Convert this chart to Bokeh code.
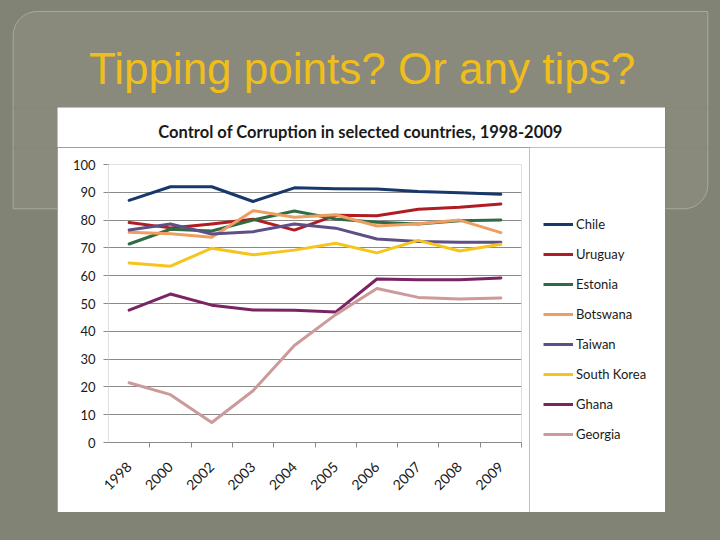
import numpy as np
from bokeh.plotting import figure
from bokeh.layouts import column, row
from bokeh.models import (Range1d, FixedTicker, Legend, LegendItem, Label,
                          CustomJSTickFormatter, GlobalInlineStyleSheet)
from bokeh.embed import file_html
from bokeh.resources import INLINE

# ---------------- data ----------------
years = ["1998", "2000", "2002", "2003", "2004", "2005", "2006", "2007", "2008", "2009"]
chile       = [87.1, 92.0, 92.0, 86.7, 91.6, 91.3, 91.2, 90.3, 89.8, 89.3]
uruguay     = [79.1, 77.2, 78.6, 80.3, 76.4, 81.7, 81.6, 83.9, 84.6, 85.8]
estonia     = [71.4, 76.7, 76.1, 80.0, 83.3, 80.4, 79.2, 78.6, 79.8, 80.0]
botswana    = [75.6, 75.1, 73.8, 83.4, 81.0, 81.9, 77.9, 78.7, 80.0, 75.5]
taiwan      = [76.4, 78.6, 75.0, 75.8, 78.6, 77.1, 73.2, 72.3, 72.0, 72.0]
south_korea = [64.6, 63.4, 69.9, 67.5, 69.2, 71.7, 68.2, 72.7, 68.9, 71.3]
ghana       = [47.6, 53.4, 49.4, 47.7, 47.6, 46.9, 58.8, 58.5, 58.5, 59.2]
georgia     = [21.5, 17.2, 7.2, 18.6, 34.9, 46.0, 55.4, 52.2, 51.6, 52.0]
y_ticks = [0, 10, 20, 30, 40, 50, 60, 70, 80, 90, 100]

series_names = ["Chile", "Uruguay", "Estonia", "Botswana", "Taiwan", "South Korea", "Ghana", "Georgia"]
series_values = [chile, uruguay, estonia, botswana, taiwan, south_korea, ghana, georgia]
series_colors = ["#18386A", "#B01C22", "#2F6B45", "#EE9E5E", "#5E4F86", "#F5C51E", "#7A2463", "#CC9A9A"]

slide_title = "Tipping points? Or any tips?"
chart_title = "Control of Corruption in selected countries, 1998-2009"

# ---------------- styles ----------------
OLIVE = "#818374"
OLIVE_IN = "#898a7c"
EDGE = "#a9ab9c"
GOLD = "#F0BE1A"
GRID = "#8a8a8a"
FONT = "Lato"
TXT = "#1a1a1a"

PAGE_W = 720
TOP_H = 107                 # slide area above the chart picture
BOX_L, BOX_W, BOX_H = 57, 608, 405
RIGHT_W = PAGE_W - BOX_L - BOX_W
TITLE_H = 40                # white strip holding the chart title
CH_H = BOX_H - TITLE_H      # chart figure height
FL, FT, FW, FH = 51, 17, 413, 278   # frame inside chart figure
FB = CH_H - FT - FH
FR = 8                      # right border of chart figure
CH_W = FL + FW + FR
LEG_W = BOX_W - CH_W        # white strip holding the legend

# rounded slide rectangle (top-left and bottom-right corners rounded), page px
r = 24
rx0, ry0, rx1, ry1 = 12.7, 11.0, 707.3, 208.3
rect_x, rect_y = [], []
for t in np.linspace(np.pi, 1.5 * np.pi, 16):
    rect_x.append(rx0 + r + r * np.cos(t)); rect_y.append(ry0 + r + r * np.sin(t))
rect_x.append(rx1); rect_y.append(ry0)
for t in np.linspace(0, 0.5 * np.pi, 16):
    rect_x.append(rx1 - r + r * np.cos(t)); rect_y.append(ry1 - r + r * np.sin(t))
rect_x.append(rx0); rect_y.append(ry1)
rect_x = np.array(rect_x); rect_y = np.array(rect_y)


def no_align(f):
    try:
        f.frame_align = False
    except Exception:
        pass
    return f


def deco(w, h, ox, oy, fill=OLIVE, slide=True):
    f = figure(width=w, height=h, x_range=Range1d(0, w), y_range=Range1d(h, 0),
               min_border=0, x_axis_type=None, y_axis_type=None,
               toolbar_location=None, output_backend="svg",
               background_fill_color=fill, border_fill_color=fill,
               outline_line_color=None)
    f.grid.visible = False
    f.outline_line_color = None
    if slide:
        f.patch(rect_x - ox, rect_y - oy, fill_color=OLIVE_IN, line_color=EDGE, line_width=1)
    return no_align(f)


top = deco(PAGE_W, TOP_H, 0, 0)
top.add_layout(Label(x=361.5, y=68, text=slide_title, text_align="center",
                     text_baseline="alphabetic", text_font="Liberation Sans",
                     text_font_size="44px", text_color=GOLD))

left1 = deco(BOX_L, TITLE_H, 0, TOP_H)
right1 = deco(RIGHT_W, TITLE_H, BOX_L + BOX_W, TOP_H)
left2 = deco(BOX_L, CH_H, 0, TOP_H + TITLE_H)
right2 = deco(RIGHT_W, CH_H, BOX_L + BOX_W, TOP_H + TITLE_H)

head = deco(BOX_W, TITLE_H, 0, 0, fill="white", slide=False)
head.add_layout(Label(x=303, y=24, text=chart_title, text_align="center",
                      text_baseline="middle", text_font=FONT, text_font_style="bold",
                      text_font_size="16.5px", text_color=TXT))

# ---------------- chart ----------------
p = figure(width=CH_W, height=CH_H, x_range=Range1d(0, len(years)), y_range=Range1d(0, 100),
           min_border_left=FL, min_border_right=FR,
           min_border_top=FT, min_border_bottom=FB,
           output_backend="svg", toolbar_location=None,
           background_fill_color="white", border_fill_color="white",
           outline_line_color=None)
no_align(p)

xpos = [i + 0.5 for i in range(len(years))]
for name, vals, col in zip(series_names, series_values, series_colors):
    p.line(xpos, vals, line_color=col, line_width=3, line_join="round", line_cap="round")

xa = p.xaxis[0]
xa.ticker = FixedTicker(ticks=xpos, minor_ticks=list(range(1, len(years) + 1)))
xa.formatter = CustomJSTickFormatter(args=dict(labels=years),
                                     code="return labels[Math.round(tick - 0.5)] || '';")
xa.major_tick_line_color = None
xa.major_tick_out = 0
xa.major_tick_in = 0
xa.minor_tick_line_color = GRID
xa.minor_tick_out = 5
xa.minor_tick_in = 0
xa.axis_line_color = GRID
xa.major_label_orientation = np.pi / 4
xa.major_label_standoff = 17
xa.major_label_text_font = FONT
xa.major_label_text_font_size = "14px"
xa.major_label_text_color = TXT

ya = p.yaxis[0]
ya.ticker = FixedTicker(ticks=y_ticks)
ya.axis_line_color = None
ya.major_tick_line_color = GRID
ya.major_tick_out = 5
ya.major_tick_in = 0
ya.minor_tick_line_color = None
ya.major_label_standoff = 8
ya.major_label_text_font = FONT
ya.major_label_text_font_size = "13px"
ya.major_label_text_color = TXT

p.xgrid.grid_line_color = None
p.ygrid.ticker = FixedTicker(ticks=y_ticks)
p.ygrid.grid_line_color = GRID
p.ygrid.grid_line_width = 1

# ---------------- legend (its own white strip) ----------------
leg = deco(LEG_W, CH_H, 0, 0, fill="white", slide=False)
items = []
for name, col in zip(series_names, series_colors):
    rr = leg.line([np.nan, np.nan], [np.nan, np.nan], line_color=col, line_width=3)
    items.append(LegendItem(label=name, renderers=[rr]))
legend = Legend(items=items, location=(14, FB), orientation="vertical",
                glyph_width=30, glyph_height=16, label_height=16, label_standoff=3,
                spacing=14, padding=0, margin=0, border_line_color=None,
                background_fill_color="white", background_fill_alpha=0,
                label_text_font=FONT,
                label_text_font_size="13px", label_text_color=TXT)
leg.add_layout(legend)

page = column(top, row(left1, head, right1), row(left2, p, leg, right2))
page.stylesheets = [GlobalInlineStyleSheet(css="body { background-color: %s; margin: 0; }" % OLIVE)]

open("out.html", "w").write(file_html(page, INLINE))
